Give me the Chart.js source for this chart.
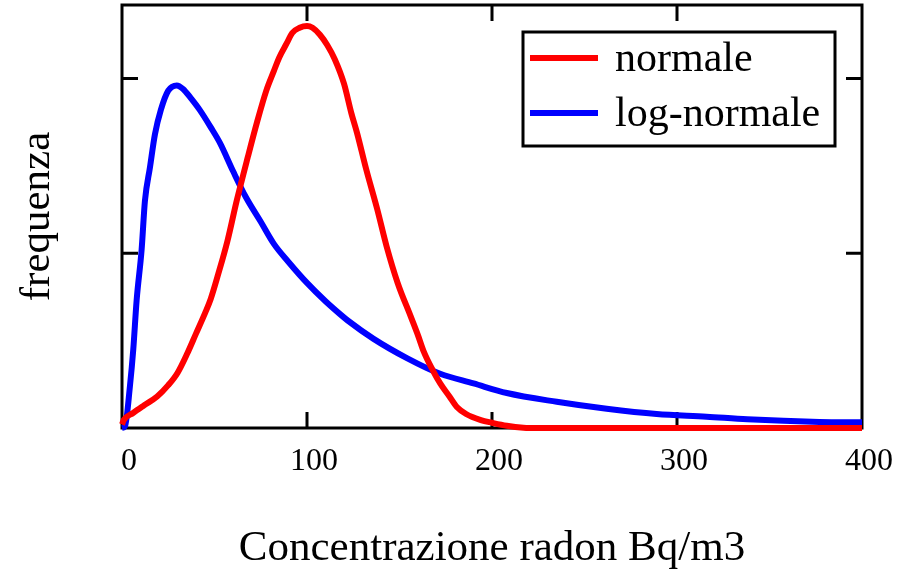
<!DOCTYPE html>
<html lang="it">
<head>
    <meta charset="UTF-8">
    <title>Concentrazione radon</title>
    <script src="https://cdn.jsdelivr.net/npm/chart.js"></script>
    <style>
        html, body { margin: 0; padding: 0; background: #fff; }
        #wrap { width: 923px; height: 569px; }
    </style>
</head>
<body>
    <div id="wrap">
        <canvas id="radonChart"></canvas>
    </div>
    <script>
        // dati
        const normaleX = [0, 1, 6, 12, 19, 25, 30, 35, 40, 45, 48, 52, 57, 62, 68, 73, 78, 82, 85, 89, 92, 96, 100,
            103, 107, 111, 115, 120, 124, 127, 132, 138, 143, 149, 156, 160, 163, 168, 172, 177, 181, 186, 194,
            200, 208, 217, 225, 300, 400];
        const normaleY = [0.02, 0.046, 0.086, 0.13, 0.18, 0.245, 0.315, 0.42, 0.54, 0.66, 0.74, 0.88, 1.07, 1.30,
            1.55, 1.75, 1.93, 2.04, 2.12, 2.20, 2.26, 2.29, 2.30, 2.29, 2.25, 2.19, 2.11, 1.97, 1.80, 1.69, 1.48,
            1.25, 1.04, 0.83, 0.64, 0.53, 0.44, 0.33, 0.255, 0.18, 0.12, 0.08, 0.045, 0.03, 0.013, 0.002, 0, 0, 0];

        const logNormX = [0, 1.6, 4.3, 6.1, 7.9, 10.6, 12.4, 15.1, 17.8, 21, 25, 29.6, 33, 37, 42, 48, 53, 60, 67,
            75, 82, 90, 100, 110, 118, 122, 136, 154, 172, 190, 208, 235, 262, 289, 316, 338, 377, 400];
        const logNormY = [0, 0.01, 0.24, 0.45, 0.73, 1.02, 1.30, 1.49, 1.68, 1.82, 1.93, 1.96, 1.94, 1.89, 1.82,
            1.72, 1.63, 1.47, 1.32, 1.18, 1.055, 0.95, 0.83, 0.725, 0.65, 0.615, 0.51, 0.40, 0.31, 0.255, 0.20,
            0.15, 0.11, 0.08, 0.065, 0.05, 0.035, 0.033];

        const xTicks = [0, 100, 200, 300, 400];
        const yTicks = [1, 2];

        const serif = "'Liberation Serif', 'DejaVu Serif', serif";

        function toPoints(xs, ys) {
            return xs.map((x, i) => ({ x: x, y: ys[i] }));
        }

        // cornice con tacche verso l'interno
        const framePlugin = {
            id: 'frame',
            beforeDatasetsDraw(chart) {
                const ctx = chart.ctx;
                const a = chart.chartArea;
                const xs = chart.scales.x;
                const ys = chart.scales.y;
                ctx.save();
                ctx.strokeStyle = '#000';
                ctx.lineWidth = 3;
                ctx.strokeRect(a.left, a.top, a.right - a.left, a.bottom - a.top);
                ctx.beginPath();
                xTicks.slice(1, -1).forEach(v => {
                    const px = xs.getPixelForValue(v);
                    ctx.moveTo(px, a.bottom); ctx.lineTo(px, a.bottom - 16);
                    ctx.moveTo(px, a.top); ctx.lineTo(px, a.top + 16);
                });
                yTicks.forEach(v => {
                    const py = ys.getPixelForValue(v);
                    ctx.moveTo(a.left, py); ctx.lineTo(a.left + 16, py);
                    ctx.moveTo(a.right, py); ctx.lineTo(a.right - 16, py);
                });
                ctx.stroke();
                ctx.restore();
            }
        };

        // legenda in riquadro
        const legendBoxPlugin = {
            id: 'legendBox',
            afterDraw(chart) {
                const ctx = chart.ctx;
                const box = { x: 523, y: 32, w: 312, h: 114 };
                ctx.save();
                ctx.fillStyle = '#fff';
                ctx.fillRect(box.x, box.y, box.w, box.h);
                ctx.strokeStyle = '#000';
                ctx.lineWidth = 3;
                ctx.strokeRect(box.x, box.y, box.w, box.h);
                ctx.font = '42px ' + serif;
                ctx.textBaseline = 'middle';
                ctx.fillStyle = '#000';
                chart.data.datasets.forEach((ds, i) => {
                    const cy = box.y + 26 + i * 55;
                    ctx.strokeStyle = ds.borderColor;
                    ctx.lineWidth = 6;
                    ctx.beginPath();
                    ctx.moveTo(box.x + 7, cy);
                    ctx.lineTo(box.x + 75, cy);
                    ctx.stroke();
                    ctx.fillText(ds.label, box.x + 92, cy + 2);
                });
                ctx.restore();
            }
        };

        const ctx = document.getElementById('radonChart').getContext('2d');
        const radonChart = new Chart(ctx, {
            type: 'line',
            data: {
                datasets: [{
                    label: 'normale',
                    data: toPoints(normaleX, normaleY),
                    borderColor: '#ff0000',
                    borderWidth: 6,
                    pointRadius: 0,
                    cubicInterpolationMode: 'monotone',
                    clip: false
                }, {
                    label: 'log-normale',
                    data: toPoints(logNormX, logNormY),
                    borderColor: '#0000ff',
                    borderWidth: 6,
                    pointRadius: 0,
                    cubicInterpolationMode: 'monotone',
                    clip: false
                }]
            },
            options: {
                responsive: true,
                maintainAspectRatio: false,
                animation: false,
                layout: { padding: { top: 5, right: 61, left: 0, bottom: 0 } },
                plugins: {
                    legend: { display: false },
                    tooltip: { enabled: false }
                },
                scales: {
                    x: {
                        type: 'linear',
                        min: 0,
                        max: 400,
                        afterFit(scale) { scale.height = 141; },
                        afterBuildTicks(scale) { scale.ticks = xTicks.map(v => ({ value: v })); },
                        grid: { display: false, drawTicks: false },
                        border: { display: false },
                        ticks: {
                            padding: 14,
                            labelOffset: 7,
                            color: '#000',
                            font: { family: serif, size: 32 }
                        },
                        title: {
                            display: true,
                            text: 'Concentrazione radon Bq/m3',
                            color: '#000',
                            font: { family: serif, size: 43 },
                            padding: { top: 0, bottom: -6 }
                        }
                    },
                    y: {
                        min: 0,
                        max: 2.42,
                        afterFit(scale) { scale.width = 122; },
                        grid: { display: false, drawTicks: false },
                        border: { display: false },
                        ticks: { display: false },
                        title: {
                            display: true,
                            text: 'frequenza',
                            color: '#000',
                            font: { family: serif, size: 43 },
                            padding: { top: 12, bottom: 0 }
                        }
                    }
                }
            },
            plugins: [framePlugin, legendBoxPlugin]
        });
    </script>
</body>
</html>
